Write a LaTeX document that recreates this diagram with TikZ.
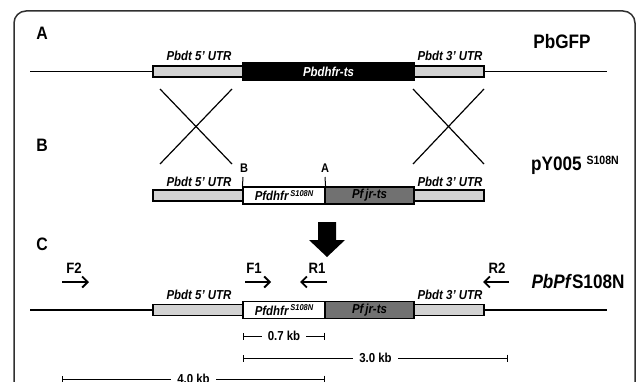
\documentclass[tikz,border=0pt]{standalone}
\usepackage{fontspec}
\usepackage{graphicx}
\setmainfont{Liberation Sans}
\usetikzlibrary{arrows.meta}
\definecolor{utrgray}{HTML}{D2D2D2}
\definecolor{jrgray}{HTML}{717171}
\definecolor{framegray}{HTML}{303030}
\newcommand{\sq}[1]{\scalebox{0.88}[1]{#1}}
\newcommand{\lblfont}{\bfseries\itshape\fontsize{13}{14}\selectfont}
\newcommand{\secfont}{\bfseries\fontsize{18}{19}\selectfont}
\newcommand{\namefont}{\bfseries\fontsize{19.5}{21}\selectfont}
\newcommand{\kbfont}{\bfseries\fontsize{13}{14}\selectfont}
\newcommand{\supS}{\raisebox{4.5pt}{\fontsize{8.5}{9}\selectfont S108N}}
\begin{document}
\begin{tikzpicture}[x=1pt,y=-1pt,
  utr/.style={draw=black, line width=1.1pt, fill=utrgray, inner sep=0pt, minimum height=11pt, minimum width=#1},
  gene/.style={draw=black, line width=1.1pt, inner sep=0pt, minimum height=17pt, font=\lblfont},
  lbl/.style={font=\lblfont, anchor=base, inner sep=0pt},
  sec/.style={font=\secfont, anchor=base, inner sep=0pt},
  cname/.style={font=\namefont, anchor=base, inner sep=0pt},
  backbone/.style={line width=1.4pt},
  crossline/.style={line width=1.2pt},
  primer/.style={line width=2.1pt, -{Straight Barb[length=5.5pt,width=11pt,line width=1.9pt]}},
  plbl/.style={font=\bfseries\fontsize{15}{16}\selectfont, anchor=base, inner sep=0pt},
  sitemark/.style={font=\bfseries\fontsize{12.5}{13}\selectfont, anchor=base, inner sep=0pt},
  sitetick/.style={line width=1pt},
  kbbar/.style={line width=0.9pt, {Bar[width=7pt,line width=0.9pt]}-{Bar[width=7pt,line width=0.9pt]}},
  kb/.style={font=\kbfont, fill=white, inner xsep=6pt, inner ysep=1pt}
]
\useasboundingbox (0,0) rectangle (636,382);
% frame
\draw[framegray, line width=1.5pt, rounded corners=12pt] (14,400) -- (14,11) -- (635,11) -- (635,400);

% ---------- A ----------
\node[sec] (secA) at (42,40) {\sq{A}};
\node[cname] (nA) at (562,49) {\sq{PbGFP}};
\coordinate (aL) at (30,71.5);
\coordinate (aR) at (607,71.5);
\node[utr=90pt] (a5) at (198,71.5) {};
\node[utr=70pt] (a3) at (449,71.5) {};
\node[gene, fill=black, text=white, minimum width=171pt] (ag) at (328.5,71.5) {\sq{Pbdhfr-ts}};
\draw[backbone] (aL) -- (a5.west);
\draw[backbone] (a3.east) -- (aR);
\node[lbl] (a5l) at (199,61) {\sq{Pbdt 5' UTR}};
\node[lbl] (a3l) at (450,61) {\sq{Pbdt 3' UTR}};

% crosses
\coordinate (c1a) at (160,89);  \coordinate (c1b) at (232,164);
\coordinate (c1c) at (232,89);  \coordinate (c1d) at (160,164);
\coordinate (c2a) at (413,89);  \coordinate (c2b) at (484,164);
\coordinate (c2c) at (484,89);  \coordinate (c2d) at (413,164);
\draw[crossline] (c1a) -- (c1b);
\draw[crossline] (c1c) -- (c1d);
\draw[crossline] (c2a) -- (c2b);
\draw[crossline] (c2c) -- (c2d);

% ---------- B ----------
\node[sec] (secB) at (42,152) {\sq{B}};
\node[cname, anchor=base west] (nB) at (531,171) {\sq{pY005 \raisebox{6pt}{\fontsize{12}{12}\selectfont S108N}}};
\node[utr=90pt] (b5) at (198,195.5) {};
\node[utr=70pt] (b3) at (449,195.5) {};
\node[gene, fill=white, minimum width=82pt] (bw) at (284,195.5) {\sq{Pfdhfr\,\supS}};
\node[gene, fill=jrgray, minimum width=89pt] (bj) at (369.5,195.5) {\sq{Pf\,jr-ts}};
\node[lbl] (b5l) at (199,186) {\sq{Pbdt 5' UTR}};
\node[lbl] (b3l) at (450,186) {\sq{Pbdt 3' UTR}};
\node[sitemark] (mB) at (244,172) {\sq{B}};
\node[sitemark] (mA) at (325,172) {\sq{A}};
\draw[sitetick] (243,177) -- (bw.north west);
\draw[sitetick] (325,177) -- (bw.north east);

% big arrow
\fill[black] (318,222) -- (336,222) -- (336,240) -- (345,240) -- (327,257) -- (309,240) -- (318,240) -- cycle;

% ---------- C ----------
\node[sec] (secC) at (42,250) {\sq{C}};
\node[cname] (nC) at (578,288) {\sq{\textit{PbPf}S108N}};
\coordinate (cL) at (30,310);
\coordinate (cR) at (607,310);
\node[utr=90pt] (k5) at (198,310) {};
\node[utr=70pt] (k3) at (449,310) {};
\node[gene, fill=white, minimum width=82pt] (kw) at (284,310) {\sq{Pfdhfr\,\supS}};
\node[gene, fill=jrgray, minimum width=89pt] (kj) at (369.5,310) {\sq{Pf\,jr-ts}};
\draw[backbone] (cL) -- (k5.west);
\draw[backbone] (k3.east) -- (cR);
\node[lbl] (k5l) at (199,299) {\sq{Pbdt 5' UTR}};
\node[lbl] (k3l) at (450,299) {\sq{Pbdt 3' UTR}};

% primers
\node[plbl] (F2) at (74,273) {\sq{F2}};
\node[plbl] (F1) at (254,273) {\sq{F1}};
\node[plbl] (R1) at (317,273) {\sq{R1}};
\node[plbl] (R2) at (497,273) {\sq{R2}};
\coordinate (f2a) at (62,282); \coordinate (f2b) at (89,282);
\coordinate (f1a) at (245,282); \coordinate (f1b) at (271,282);
\coordinate (r1a) at (327,282); \coordinate (r1b) at (300,282);
\coordinate (r2a) at (509,282); \coordinate (r2b) at (483,282);
\draw[primer] (f2a) -- (f2b);
\draw[primer] (f1a) -- (f1b);
\draw[primer] (r1a) -- (r1b);
\draw[primer] (r2a) -- (r2b);

% scale bars
\coordinate (s1a) at (243,336); \coordinate (s1b) at (325,336);
\coordinate (s2a) at (243,358); \coordinate (s2b) at (508,358);
\coordinate (s3a) at (62,379);  \coordinate (s3b) at (325,379);
\draw[kbbar] (s1a) -- node[kb] (kb1) {\sq{0.7 kb}} (s1b);
\draw[kbbar] (s2a) -- node[kb] (kb2) {\sq{3.0 kb}} (s2b);
\draw[kbbar] (s3a) -- node[kb] (kb3) {\sq{4.0 kb}} (s3b);
\end{tikzpicture}
\end{document}
